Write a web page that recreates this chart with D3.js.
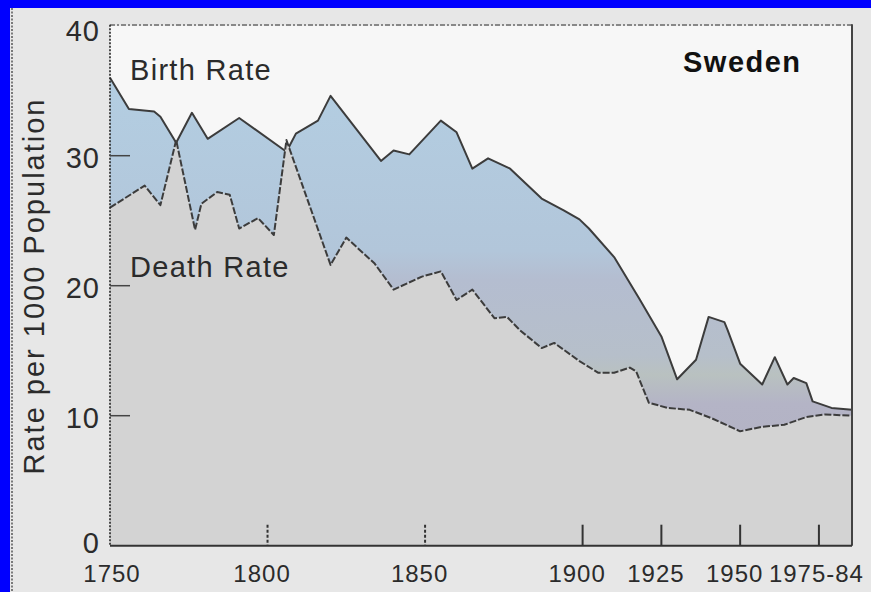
<!DOCTYPE html>
<html>
<head>
<meta charset="utf-8">
<script src="https://cdn.jsdelivr.net/npm/d3@7"></script>
<style>
  html, body { margin: 0; padding: 0; background: #e7e7e7; }
  svg { display: block; }
  text { font-family: "Liberation Sans", Arial, sans-serif; fill: #2b2b2b; }
</style>
</head>
<body>
<script>
'use strict';

// birth rate per 1000
const birthYears = [1750, 1756, 1764, 1766, 1771, 1776, 1781, 1791, 1806, 1809, 1816, 1820,
  1836, 1840, 1845, 1855, 1860, 1865, 1870, 1877, 1887, 1894, 1899, 1902, 1910, 1918, 1925,
  1930, 1936, 1940, 1945, 1946, 1950, 1957, 1961, 1965, 1967, 1971, 1973, 1979, 1985.5];
const birthRates = [36.0, 33.6, 33.4, 33.0, 31.0, 33.3, 31.3, 32.9, 30.3, 31.7, 32.7, 34.6,
  29.6, 30.4, 30.1, 32.7, 31.8, 29.0, 29.8, 29.0, 26.7, 25.8, 25.1, 24.4, 22.2, 19.0, 16.1,
  12.8, 14.3, 17.6, 17.2, 16.6, 14.0, 12.4, 14.5, 12.4, 12.9, 12.5, 11.1, 10.6, 10.45];

// death rate per 1000
const deathYears = [1750, 1761, 1766, 1771, 1777, 1779, 1784, 1788, 1791, 1797, 1802, 1806,
  1820, 1825, 1834, 1840, 1849, 1855, 1860, 1865, 1872, 1876, 1880, 1887, 1891, 1899, 1905,
  1910, 1915, 1917, 1921, 1927, 1934, 1941, 1950, 1957, 1964, 1971, 1977, 1985.5];
const deathRates = [26.0, 27.7, 26.2, 31.2, 24.3, 26.3, 27.2, 27.0, 24.4, 25.2, 23.9, 31.2,
  21.6, 23.7, 21.7, 19.7, 20.7, 21.1, 18.9, 19.7, 17.5, 17.6, 16.6, 15.2, 15.6, 14.2, 13.3,
  13.3, 13.7, 13.4, 11.0, 10.6, 10.45, 9.8, 8.8, 9.15, 9.3, 9.9, 10.1, 10.0];

const yTicks = [0, 10, 20, 30, 40];
const xTicks = [1750, 1800, 1850, 1900, 1925, 1950, 1975];
const xTickLabels = ["1750", "1800", "1850", "1900", "1925", "1950", "1975-84"];
const dottedTicks = [1800, 1850];

(function() {

  let svg = "";
  const width = 871, height = 592;
  const plot = {left: 110, right: 852, top: 25.7, bottom: 545.7};

  window.onload = function() {
    svg = d3.select('body')
      .append('svg')
      .attr('width', width)
      .attr('height', height);

    drawFrame();
    let scales = makeScales();
    drawAreas(scales);
    drawAxes(scales);
    makeLabels();
  }

  function makeScales() {
    let x = d3.scaleLinear()
      .domain([1750, 1985.5])
      .range([plot.left, plot.right]);
    let y = d3.scaleLinear()
      .domain([0, 40])
      .range([plot.bottom, plot.top]);
    return {x: x, y: y};
  }

  // blue border, grey page, white plot box
  function drawFrame() {
    svg.append('rect')
      .attr('width', width).attr('height', height)
      .attr('fill', '#e7e7e7');
    svg.append('rect')
      .attr('width', width).attr('height', 8)
      .attr('fill', '#0000ff');
    svg.append('rect')
      .attr('width', 10).attr('height', height)
      .attr('fill', '#0000ff');
    svg.append('line')
      .attr('x1', 12).attr('x2', 12)
      .attr('y1', 8).attr('y2', height)
      .attr('stroke', '#333')
      .attr('stroke-width', 1.2)
      .attr('stroke-dasharray', '2,1.5');
    svg.append('rect')
      .attr('x', plot.left).attr('y', plot.top)
      .attr('width', plot.right - plot.left)
      .attr('height', plot.bottom - plot.top)
      .attr('fill', '#f7f7f7');

    // gradient used for the gap between birth and death
    let grad = svg.append('defs').append('linearGradient')
      .attr('id', 'gapFill')
      .attr('gradientUnits', 'userSpaceOnUse')
      .attr('x1', 0).attr('x2', 0)
      .attr('y1', 70).attr('y2', 546);
    let stops = [[0, '#b3cee2'], [0.38, '#b2c6da'], [0.44, '#b4bdd0'],
                 [0.6, '#b6bfca'], [0.64, '#b9c1c0'], [0.66, '#b7bdc2'],
                 [0.7, '#b4b4c6'], [1, '#b0b0c0']];
    grad.selectAll('stop')
      .data(stops)
      .enter()
      .append('stop')
      .attr('offset', (d) => d[0])
      .attr('stop-color', (d) => d[1]);
  }

  function drawAreas(s) {
    let birth = birthYears.map((yr, i) => ({year: yr, rate: birthRates[i]}));
    let death = deathYears.map((yr, i) => ({year: yr, rate: deathRates[i]}));

    let area = d3.area()
      .x((d) => s.x(d.year))
      .y0(s.y(0))
      .y1((d) => s.y(d.rate));
    let line = d3.line()
      .x((d) => s.x(d.year))
      .y((d) => s.y(d.rate));

    svg.append('path')
      .datum(birth)
      .attr('fill', 'url(#gapFill)')
      .attr('d', area);

    svg.append('path')
      .datum(birth)
      .attr('fill', 'none')
      .attr('stroke', '#3c3c3c')
      .attr('stroke-width', 2)
      .attr('stroke-linejoin', 'round')
      .attr('d', line);

    svg.append('path')
      .datum(death)
      .attr('fill', '#d3d3d3')
      .attr('d', area);

    svg.append('path')
      .datum(death)
      .attr('fill', 'none')
      .attr('stroke', '#3c3c3c')
      .attr('stroke-width', 2)
      .attr('stroke-dasharray', '7,2')
      .attr('stroke-linejoin', 'round')
      .attr('d', line);
  }

  function drawAxes(s) {
    // top dash-dot border
    svg.append('line')
      .attr('x1', plot.left).attr('x2', plot.right)
      .attr('y1', plot.top - 0.7).attr('y2', plot.top - 0.7)
      .attr('stroke', '#888')
      .attr('stroke-width', 2)
      .attr('stroke-dasharray', '5,2,2,2');
    // right border
    svg.append('line')
      .attr('x1', plot.right).attr('x2', plot.right)
      .attr('y1', plot.top - 1.5).attr('y2', plot.bottom)
      .attr('stroke', '#444')
      .attr('stroke-width', 2);

    // y axis, dotted
    let yAxis = d3.axisLeft(s.y)
      .tickValues(yTicks)
      .tickSize(0)
      .tickPadding(10);
    let gy = svg.append('g')
      .attr('transform', 'translate(' + plot.left + ',0)')
      .call(yAxis);
    gy.select('.domain')
      .attr('d', 'M0,' + (plot.top - 1) + 'V' + plot.bottom)
      .attr('stroke', '#222')
      .attr('stroke-width', 1.6)
      .attr('stroke-dasharray', '2,1.5');
    gy.selectAll('.tick text')
      .attr('dy', (d) => d == 40 ? '0.5em' : (d == 0 ? '0.24em' : '0.42em'))
      .style('font-size', '29px')
      .style('letter-spacing', '1px')
      .style('fill', '#2b2b2b');

    // short inward ticks at 10, 20, 30
    svg.selectAll('.ytick')
      .data(yTicks.filter((t) => t > 0 && t < 40))
      .enter()
      .append('line')
      .attr('x1', plot.left).attr('x2', plot.left + 20)
      .attr('y1', (d) => s.y(d)).attr('y2', (d) => s.y(d))
      .attr('stroke', '#444')
      .attr('stroke-width', 1.5);

    // x axis
    let xAxis = d3.axisBottom(s.x)
      .tickValues(xTicks)
      .tickSize(0)
      .tickPadding(19)
      .tickFormat((d, i) => xTickLabels[i]);
    let gx = svg.append('g')
      .attr('transform', 'translate(0,' + plot.bottom + ')')
      .call(xAxis);
    gx.select('.domain')
      .attr('d', 'M' + plot.left + ',0H' + plot.right)
      .attr('stroke', '#333')
      .attr('stroke-width', 2);
    gx.selectAll('.tick text')
      .attr('dx', (d) => d == 1750 ? 1.5 : (d == 1975 ? -3 : -6))
      .style('font-size', '24px')
      .style('letter-spacing', '1px')
      .style('fill', '#2b2b2b');

    // upward ticks, dotted for the first half
    svg.selectAll('.xtick')
      .data(xTicks.filter((t) => t > 1750))
      .enter()
      .append('line')
      .attr('x1', (d) => s.x(d)).attr('x2', (d) => s.x(d))
      .attr('y1', plot.bottom - 21).attr('y2', plot.bottom)
      .attr('stroke', '#333')
      .attr('stroke-width', 2)
      .attr('stroke-dasharray', (d) => dottedTicks.includes(d) ? '3,2' : null);
  }

  function makeLabels() {
    svg.append('text')
      .attr('x', 130)
      .attr('y', 80)
      .style('font-size', '29px')
      .style('letter-spacing', '1.3px')
      .text('Birth Rate');

    svg.append('text')
      .attr('x', 130)
      .attr('y', 277)
      .style('font-size', '29px')
      .style('letter-spacing', '1.3px')
      .text('Death Rate');

    svg.append('text')
      .attr('x', 683)
      .attr('y', 72)
      .style('font-size', '29px')
      .style('font-weight', 'bold')
      .style('letter-spacing', '1.5px')
      .style('fill', '#111')
      .text('Sweden');

    svg.append('text')
      .attr('transform', 'translate(44, 286)rotate(-90)')
      .attr('text-anchor', 'middle')
      .style('font-size', '29px')
      .style('letter-spacing', '2px')
      .text('Rate per 1000 Population');
  }

})();
</script>
</body>
</html>
